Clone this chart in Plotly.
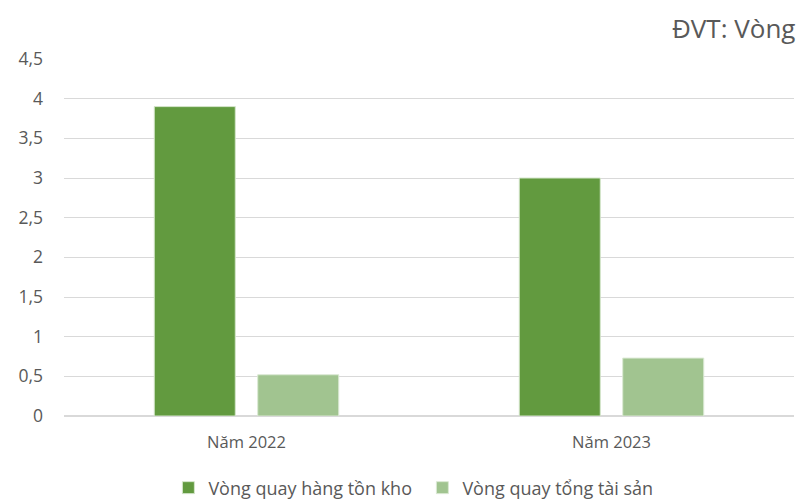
import plotly.graph_objects as go

# Categories and series values
years = ["Năm 2022", "Năm 2023"]
inventory_turnover = [3.9, 3.0]
asset_turnover = [0.52, 0.73]
series_names = ["Vòng quay hàng tồn kho", "Vòng quay tổng tài sản"]
y_ticks = [0, 0.5, 1, 1.5, 2, 2.5, 3, 3.5, 4, 4.5]

font_family = "Open Sans, Liberation Sans, sans-serif"
text_color = "#595959"

fig = go.Figure()
fig.add_trace(go.Bar(
    x=years, y=inventory_turnover, name=series_names[0],
    marker=dict(color="#629A3F", line=dict(color="#d5e6cc", width=1)),
))
fig.add_trace(go.Bar(
    x=years, y=asset_turnover, name=series_names[1],
    marker=dict(color="#A1C490", line=dict(color="#dbe9d4", width=1)),
))

fig.update_layout(
    width=798, height=502,
    margin=dict(l=64, r=4, t=59, b=86, autoexpand=False),
    paper_bgcolor="white", plot_bgcolor="white",
    separators=", ",
    barmode="group", bargap=0.433, bargroupgap=0.217,
    font=dict(family=font_family, color=text_color, size=16.5),
    showlegend=True,
    legend=dict(orientation="h", xref="container", yref="container",
                x=0.211, xanchor="left", y=0.028, yanchor="middle",
                font=dict(size=18, color=text_color),
                entrywidth=209, entrywidthmode="pixels",
                traceorder="normal"),
    xaxis=dict(showline=False, ticks="", ticklabelstandoff=14,
               tickfont=dict(size=16.5, color=text_color)),
    yaxis=dict(range=[0, 4.5], tickvals=y_ticks, showgrid=True, gridcolor="#d9d9d9",
               gridwidth=1, zeroline=True, zerolinecolor="#d9d9d9", ticks="",
               ticklabelstandoff=20, tickfont=dict(size=17.5, color=text_color)),
    annotations=[dict(text="ĐVT: Vòng", xref="paper", yref="paper", x=1.0, y=1.0868,
                      xshift=3, xanchor="right", yanchor="middle", showarrow=False,
                      font=dict(size=26, color=text_color, family=font_family))],
)

fig.write_html("out.html")
